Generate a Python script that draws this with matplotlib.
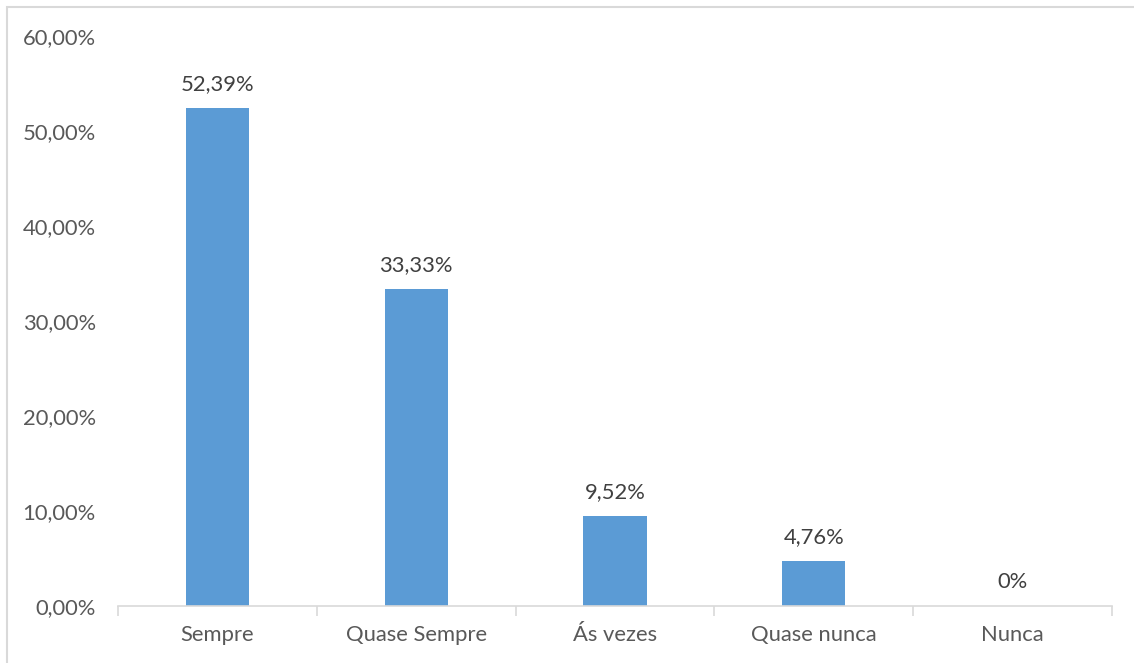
import matplotlib
matplotlib.use("Agg")
import matplotlib.pyplot as plt
from matplotlib.patches import Rectangle
from matplotlib.ticker import FuncFormatter

categories = ["Sempre", "Quase Sempre", "Ás vezes", "Quase nunca", "Nunca"]
values = [52.39, 33.33, 9.52, 4.76, 0.0]
value_labels = ["52,39%", "33,33%", "9,52%", "4,76%", "0%"]

W, H = 1134, 663
plt.rcParams['font.family'] = ['Lato', 'DejaVu Sans']

fig = plt.figure(figsize=(W / 100, H / 100), dpi=100)
ax = fig.add_axes([118 / W, 1 - 606 / H, (1112 - 118) / W, (606 - 36) / H])

x = list(range(len(categories)))
bars = ax.bar(x, values, width=0.317, color="#5b9bd5", zorder=2)

for xi, v, lab in zip(x, values, value_labels):
    ax.annotate(lab, (xi, v), xytext=(0, 10), textcoords="offset points",
                ha="center", va="bottom", fontsize=15.8, color="#404040")

ax.set_xlim(-0.5, len(categories) - 0.5)
ax.set_ylim(0, 60)
ax.set_yticks(range(0, 61, 10))
ax.yaxis.set_major_formatter(FuncFormatter(lambda v, p: f"{v:.2f}".replace(".", ",") + "%"))
ax.set_xticks(x)
ax.set_xticklabels(categories)

# category boundary ticks
ax.set_xticks([i - 0.5 for i in range(len(categories) + 1)], minor=True)
ax.tick_params(axis="x", which="major", length=0, pad=14, labelsize=15.8, labelcolor="#595959")
ax.tick_params(axis="x", which="minor", length=7, color="#d9d9d9", width=1.2)
ax.tick_params(axis="y", length=0, pad=16, labelsize=15.8, labelcolor="#595959")

for s in ["top", "right", "left"]:
    ax.spines[s].set_visible(False)
ax.spines["bottom"].set_color("#d9d9d9")
ax.spines["bottom"].set_linewidth(1.2)

fig.patches.append(Rectangle((6.5 / W, -0.01), (W - 3) / W, 1 - 6.5 / H + 0.01,
                             transform=fig.transFigure, fill=False,
                             edgecolor="#d9d9d9", linewidth=1.5))

fig.savefig("out.png", dpi=100)
